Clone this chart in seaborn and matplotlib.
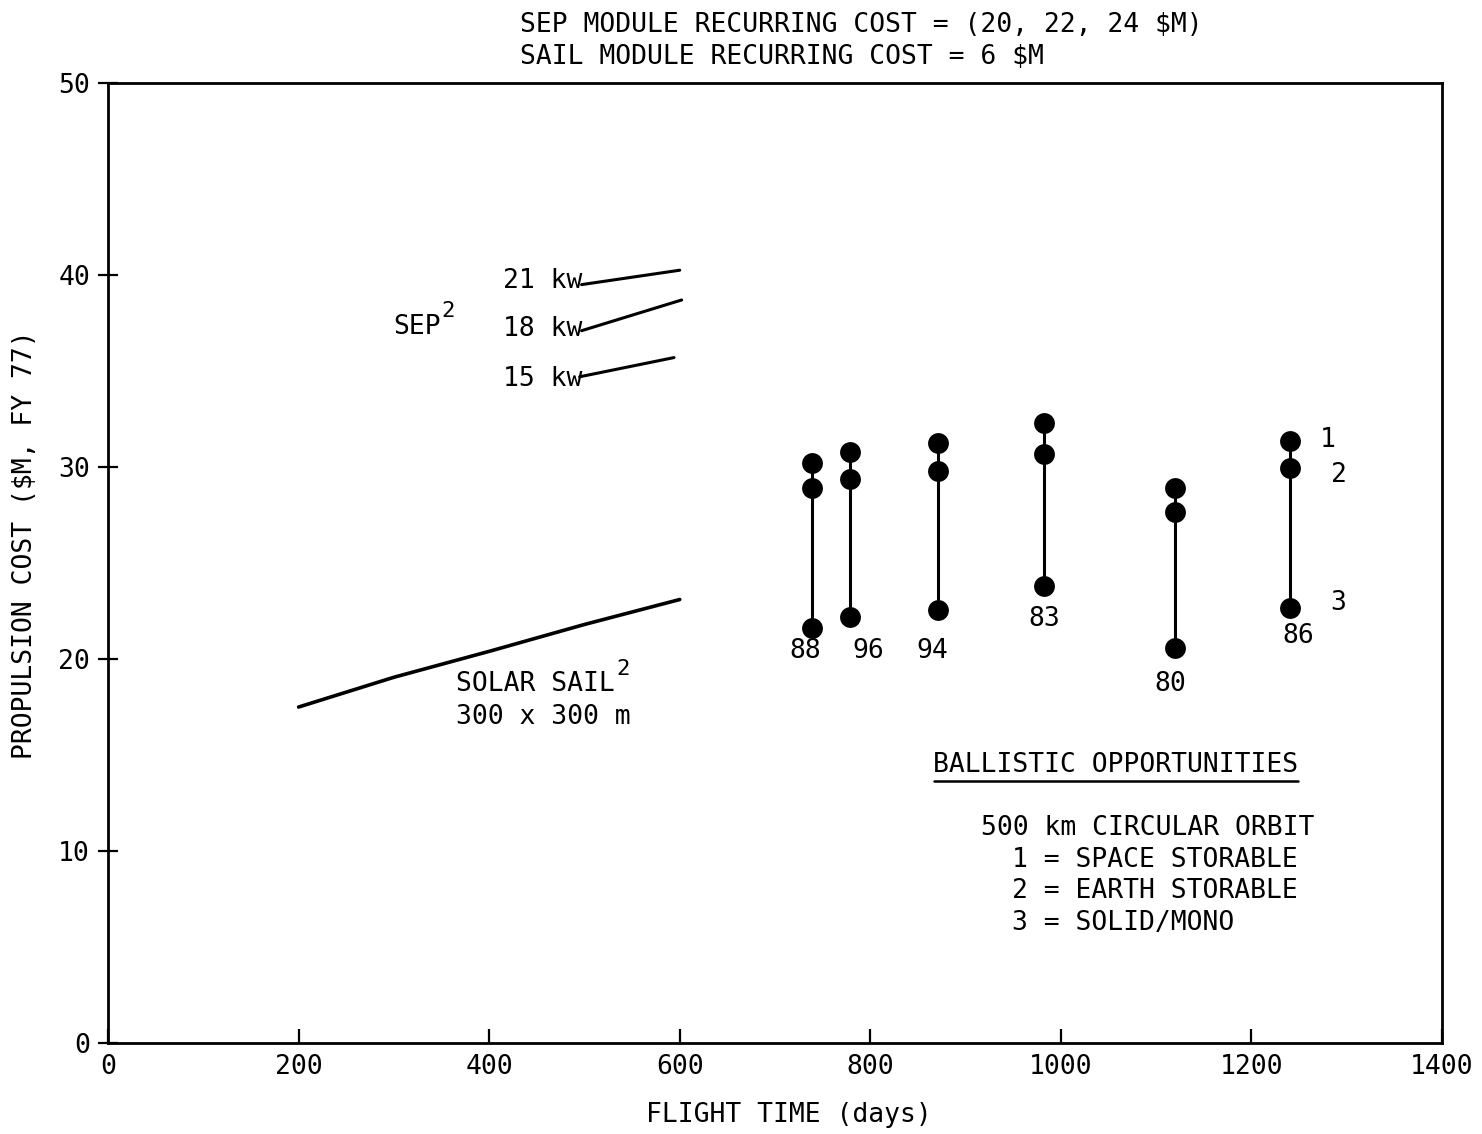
import matplotlib
matplotlib.use("Agg")
import matplotlib.pyplot as plt
import seaborn as sns
import pandas as pd

# Ballistic opportunities: flight time (days) and propulsion cost for
# 1 = space storable, 2 = earth storable, 3 = solid/mono
opp_labels = ["88", "96", "94", "83", "80", "86"]
opp_days = [739, 779, 871, 982, 1120, 1241]
cost_space = [30.2, 30.8, 31.25, 32.3, 28.9, 31.35]
cost_earth = [28.9, 29.4, 29.8, 30.7, 27.65, 29.95]
cost_solid = [21.6, 22.2, 22.55, 23.8, 20.6, 22.65]

# Solar sail 300 x 300 m
sail_days = [200, 300, 400, 500, 600]
sail_cost = [17.5, 19.05, 20.4, 21.8, 23.1]

# SEP curves (start/end of each line)
sep_power = ["21 kw", "18 kw", "15 kw"]
sep_days = [[497, 600], [497, 602], [495, 594]]
sep_cost = [[39.5, 40.25], [37.1, 38.7], [34.7, 35.7]]

x_ticks = [0, 200, 400, 600, 800, 1000, 1200, 1400]
y_ticks = [0, 10, 20, 30, 40, 50]

sns.set_theme(style="ticks")
MONO = ["DejaVu Sans Mono", "Liberation Mono"]
plt.rcParams["font.family"] = MONO
plt.rcParams["text.color"] = "black"
plt.rcParams["axes.labelcolor"] = "black"
plt.rcParams["xtick.color"] = "black"
plt.rcParams["ytick.color"] = "black"
FS = 19

fig = plt.figure(figsize=(14.82, 11.34), dpi=100)
ax = fig.add_axes([0.0729, 0.0802, 0.9001, 0.8466])

# Ballistic data in long form
rows = []
for lab, d, a, b, c in zip(opp_labels, opp_days, cost_space, cost_earth, cost_solid):
    for kind, v in zip(["1", "2", "3"], [a, b, c]):
        rows.append({"opp": lab, "days": d, "cost": v, "kind": kind})
bal = pd.DataFrame(rows)

sns.lineplot(data=bal, x="days", y="cost", units="opp", estimator=None,
             color="black", lw=2.2, sort=False, ax=ax, legend=False)
sns.scatterplot(data=bal, x="days", y="cost", color="black", s=225,
                edgecolor="black", linewidth=0, ax=ax, legend=False, zorder=3)

sail = pd.DataFrame({"days": sail_days, "cost": sail_cost})
sns.lineplot(data=sail, x="days", y="cost", color="black", lw=2.6, ax=ax,
             legend=False)

for p, dd, cc in zip(sep_power, sep_days, sep_cost):
    seg = pd.DataFrame({"days": dd, "cost": cc})
    sns.lineplot(data=seg, x="days", y="cost", color="black", lw=2.2, ax=ax,
                 legend=False)

ax.set_xlim(0, 1400)
ax.set_ylim(0, 50)
ax.set_xticks(x_ticks)
ax.set_yticks(y_ticks)
ax.set_xticklabels([str(t) for t in x_ticks], fontsize=FS)
ax.set_yticklabels([str(t) for t in y_ticks], fontsize=FS)
ax.tick_params(axis="x", direction="in", length=10, width=1.6, pad=8)
ax.tick_params(axis="y", direction="inout", length=14, width=1.6, pad=6)
for s in ax.spines.values():
    s.set_visible(True)
    s.set_linewidth(2.0)
    s.set_color("black")

ax.set_xlabel("FLIGHT TIME (days)", fontsize=FS)
ax.set_ylabel("PROPULSION COST ($M, FY 77)", fontsize=FS)
ax.xaxis.set_label_coords(0.5105, -0.0615)
ax.yaxis.set_label_coords(-0.0526, 0.519)

# Ballistic opportunity year labels
lab_pos = [(731.6, 20.4), (797.8, 20.4), (865, 20.4), (982.8, 22.1),
           (1115, 18.7), (1248.7, 21.2)]
for lab, (lx, ly) in zip(opp_labels, lab_pos):
    ax.text(lx, ly, lab, fontsize=FS, ha="center", va="center")

ax.text(1272, 31.4, "1", fontsize=FS, ha="left", va="center")
ax.text(1283, 29.6, "2", fontsize=FS, ha="left", va="center")
ax.text(1283, 22.9, "3", fontsize=FS, ha="left", va="center")

# SEP labels
ax.text(299.6, 37.3, "SEP", fontsize=FS, ha="left", va="center")
ax.text(350, 38.1, "2", fontsize=FS * 0.85, ha="left", va="center")
for p, yy in zip(sep_power, [39.7, 37.2, 34.6]):
    ax.text(415, yy, p, fontsize=FS, ha="left", va="center")

# Solar sail labels
ax.text(364.7, 18.7, "SOLAR SAIL", fontsize=FS, ha="left", va="center")
ax.text(533, 19.5, "2", fontsize=FS * 0.85, ha="left", va="center")
ax.text(364.7, 17.0, "300 x 300 m", fontsize=FS, ha="left", va="center")

# Key
ax.text(866, 14.5, "BALLISTIC OPPORTUNITIES", fontsize=FS, ha="left", va="center")
ax.plot([0.619, 0.892], [0.273, 0.273], transform=ax.transAxes, color="black", lw=1.8)
ax.text(916.5, 11.2, "500 km CIRCULAR ORBIT", fontsize=FS, ha="left", va="center")
ax.text(949, 9.53, "1 = SPACE STORABLE", fontsize=FS, ha="left", va="center")
ax.text(949, 7.92, "2 = EARTH STORABLE", fontsize=FS, ha="left", va="center")
ax.text(949, 6.25, "3 = SOLID/MONO", fontsize=FS, ha="left", va="center")

fig.text(0.351, 0.978, "SEP MODULE RECURRING COST = (20, 22, 24 $M)", fontsize=FS,
         ha="left", va="center")
fig.text(0.351, 0.9497, "SAIL MODULE RECURRING COST = 6 $M", fontsize=FS,
         ha="left", va="center")

fig.savefig("out.png", dpi=100, facecolor="white")
